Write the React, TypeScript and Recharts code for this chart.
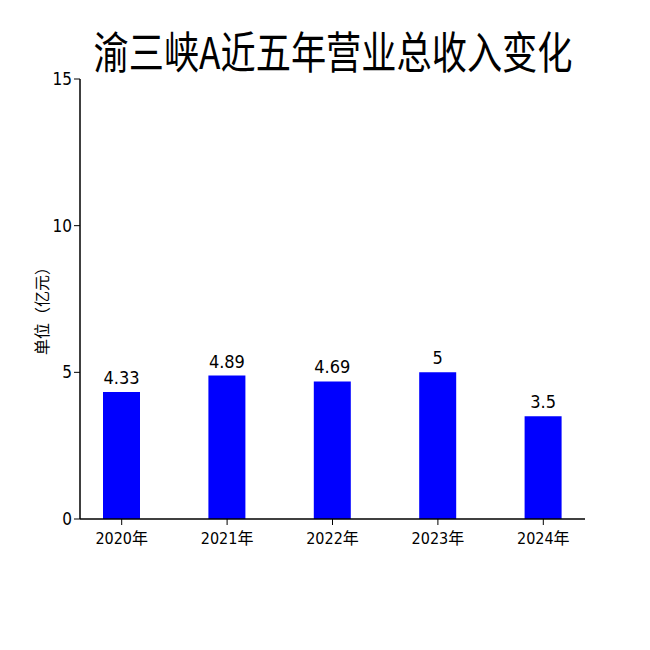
import { BarChart, Bar, XAxis, YAxis, LabelList } from "recharts";

const years = ["2020年", "2021年", "2022年", "2023年", "2024年"];
const revenue = [4.33, 4.89, 4.69, 5, 3.5];
const yTicks = [0, 5, 10, 15];

const data = years.map((year, i) => ({ year, value: revenue[i] }));

const FONT = "'DejaVu Sans', 'Noto Sans CJK SC', sans-serif";
const narrow = { fontFamily: FONT, fontStretch: "condensed" as const };

export default function App() {
  return (
    <div style={{ position: "absolute", left: 0, top: 0, width: 650, height: 650, background: "white" }}>
      <div
        style={{
          position: "absolute",
          top: 22,
          left: 0,
          width: 650,
          textAlign: "center",
          fontSize: 44,
          color: "#000",
          fontFamily: "'Noto Sans CJK SC', sans-serif",
          transform: "translateX(8px) scaleX(0.8)",
          lineHeight: "56px",
        }}
      >
        渝三峡A近五年营业总收入变化
      </div>
      <BarChart width={650} height={650} data={data} margin={{ top: 79, right: 65, bottom: 101, left: 0 }}>
        <XAxis
          dataKey="year"
          padding={{ left: -11, right: -11 }}
          tick={{ fill: "#000", fontSize: 16, dy: 6, ...narrow }}
          tickLine={{ stroke: "#000" }}
          axisLine={{ stroke: "#000", strokeWidth: 1.5 }}
          tickSize={6}
        />
        <YAxis
          width={80}
          domain={[0, 15]}
          ticks={yTicks}
          tick={{ fill: "#000", fontSize: 17, ...narrow }}
          tickLine={{ stroke: "#000" }}
          axisLine={{ stroke: "#000", strokeWidth: 1.5 }}
          tickSize={6}
          label={{
            value: "单位（亿元）",
            angle: -90,
            position: "insideLeft",
            offset: 42,
            dy: 8,
            style: { fill: "#000", fontSize: 16, textAnchor: "middle", fontFamily: "'Noto Sans CJK SC', sans-serif" },
          }}
        />
        <Bar dataKey="value" fill="#0000FF" barSize={37} isAnimationActive={false}>
          <LabelList dataKey="value" position="top" offset={8} style={{ fill: "#000", fontSize: 18, ...narrow }} />
        </Bar>
      </BarChart>
    </div>
  );
}
